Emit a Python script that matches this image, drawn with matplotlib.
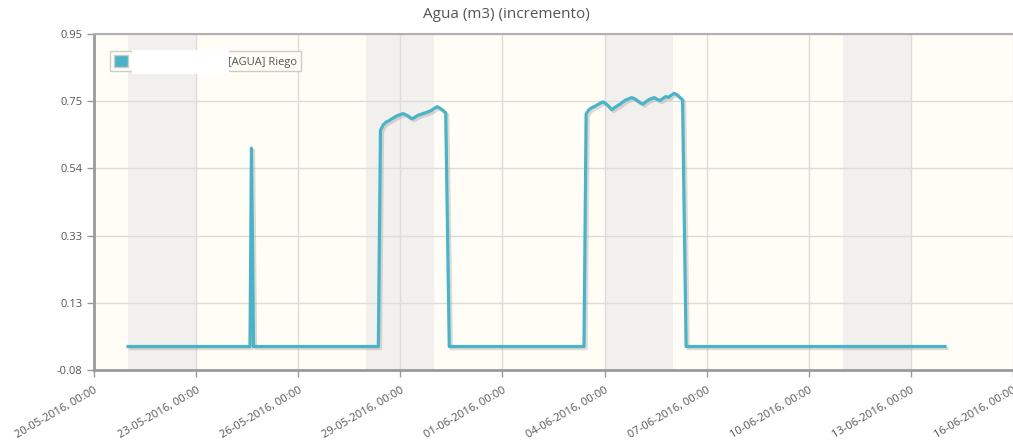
import numpy as np
import pandas as pd
import matplotlib
matplotlib.use("Agg")
import matplotlib.pyplot as plt
import matplotlib.dates as mdates
import matplotlib.patheffects as pe
from matplotlib.patches import Patch, Rectangle

plt.rcParams['font.family'] = ['Open Sans', 'DejaVu Sans']

# ------------------------------------------------------------------
# Data
# ------------------------------------------------------------------
# baseline / spike / edge points
edge_times = ["2016-05-21 00:00", "2016-05-24 14:00", "2016-05-24 15:00",
              "2016-05-24 16:30", "2016-05-28 08:30"]
edge_vals = [-0.008, -0.008, 0.60, -0.008, -0.008]

# first irrigation block (every 2 h)
block1_start = "2016-05-28 10:00"
block1_vals = [0.655, 0.672, 0.680, 0.684, 0.690, 0.695, 0.700, 0.703,
               0.706, 0.702, 0.697, 0.690, 0.694, 0.700, 0.703, 0.706,
               0.709, 0.712, 0.716, 0.722, 0.727, 0.722, 0.716, 0.708]

mid_times = ["2016-05-30 10:30", "2016-06-03 09:30"]
mid_vals = [-0.008, -0.008]

# second irrigation block (every 2 h)
block2_start = "2016-06-03 11:00"
block2_vals = [0.705, 0.718, 0.724, 0.728, 0.733, 0.738, 0.742, 0.736,
               0.728, 0.718, 0.724, 0.730, 0.735, 0.742, 0.748, 0.751,
               0.755, 0.752, 0.746, 0.740, 0.735, 0.742, 0.748, 0.752,
               0.755, 0.750, 0.746, 0.752, 0.758, 0.756, 0.762, 0.768,
               0.764, 0.756, 0.748]

end_times = ["2016-06-06 09:30", "2016-06-14 00:00"]
end_vals = [-0.008, -0.008]

weekends = [("2016-05-21", "2016-05-23"), ("2016-05-28", "2016-05-30"),
            ("2016-06-04", "2016-06-06"), ("2016-06-11", "2016-06-13")]

y_ticks = [-0.08, 0.126, 0.332, 0.538, 0.744, 0.95]
y_labels = ["-0.08", "0.13", "0.33", "0.54", "0.75", "0.95"]

# ------------------------------------------------------------------
# Assemble series
# ------------------------------------------------------------------
t1 = pd.date_range(block1_start, periods=len(block1_vals), freq="2h")
t2 = pd.date_range(block2_start, periods=len(block2_vals), freq="2h")
times = (list(pd.to_datetime(edge_times)) + list(t1) + list(pd.to_datetime(mid_times))
         + list(t2) + list(pd.to_datetime(end_times)))
vals = edge_vals + block1_vals + mid_vals + block2_vals + end_vals

# ------------------------------------------------------------------
# Plot
# ------------------------------------------------------------------
fig = plt.figure(figsize=(10.13, 4.42), dpi=100)
ax = fig.add_axes([94 / 1013, 1 - 370 / 442, 1 - 94 / 1013, (370 - 34) / 442])
ax.set_facecolor('#fffdf6')

for a, b in weekends:
    ax.axvspan(pd.Timestamp(a), pd.Timestamp(b), color='#f1f0ec', zorder=0, lw=0)

line_color = '#4bb3c8'
ax.plot(times, vals, color=line_color, linewidth=2.3, zorder=3,
        path_effects=[pe.SimpleLineShadow(offset=(1.5, -1.5), shadow_color='#999999', alpha=0.35),
                      pe.Normal()])

ax.set_xlim(pd.Timestamp("2016-05-20"), pd.Timestamp("2016-06-16"))
ax.set_ylim(-0.08, 0.95)
ax.set_yticks(y_ticks)
ax.set_yticklabels(y_labels)
ax.set_xticks(pd.date_range("2016-05-20", "2016-06-16", freq="3D"))
ax.xaxis.set_major_formatter(mdates.DateFormatter('%d-%m-%Y, %H:%M'))

ax.grid(True, color='#dcdcdc', linewidth=1, zorder=1)
ax.set_axisbelow(True)

for s in ['left', 'bottom']:
    ax.spines[s].set_color('#9a9a9a')
    ax.spines[s].set_linewidth(2)
ax.spines['top'].set_color('#b0b0b0')
ax.spines['top'].set_linewidth(1.5)
ax.spines['right'].set_visible(False)

ax.tick_params(axis='both', colors='#999999', labelcolor='#555555', labelsize=8,
               length=5, width=1)
ax.tick_params(axis='x', pad=6)
for lbl in ax.get_xticklabels():
    lbl.set_rotation(30)
    lbl.set_ha('right')
    lbl.set_va('top')
    lbl.set_rotation_mode('anchor')

fig.suptitle('Agua (m3) (incremento)', x=0.5, y=0.985, fontsize=11, color='#555555')

handle = Patch(facecolor=line_color, edgecolor='#cccccc', linewidth=1)
leg = ax.legend([handle], ['[AGUA] Riego'], loc='upper left',
                bbox_to_anchor=(16 / 919, 1 - 17 / 336), borderaxespad=0,
                fontsize=8, frameon=True, fancybox=False,
                handlelength=1.25, handleheight=1.25, borderpad=0.35,
                handletextpad=9.0, labelcolor='#555555')
leg.get_frame().set_edgecolor('#cccccc')
leg.get_frame().set_facecolor('#fffdf6')
leg.get_frame().set_alpha(1)

# redacted part of the legend label
fig.patches.append(Rectangle((132 / 1013, 1 - 74 / 442), 97 / 1013, 24 / 442,
                             transform=fig.transFigure, facecolor='white',
                             edgecolor='none', zorder=10))

fig.savefig('out.png', dpi=100)
